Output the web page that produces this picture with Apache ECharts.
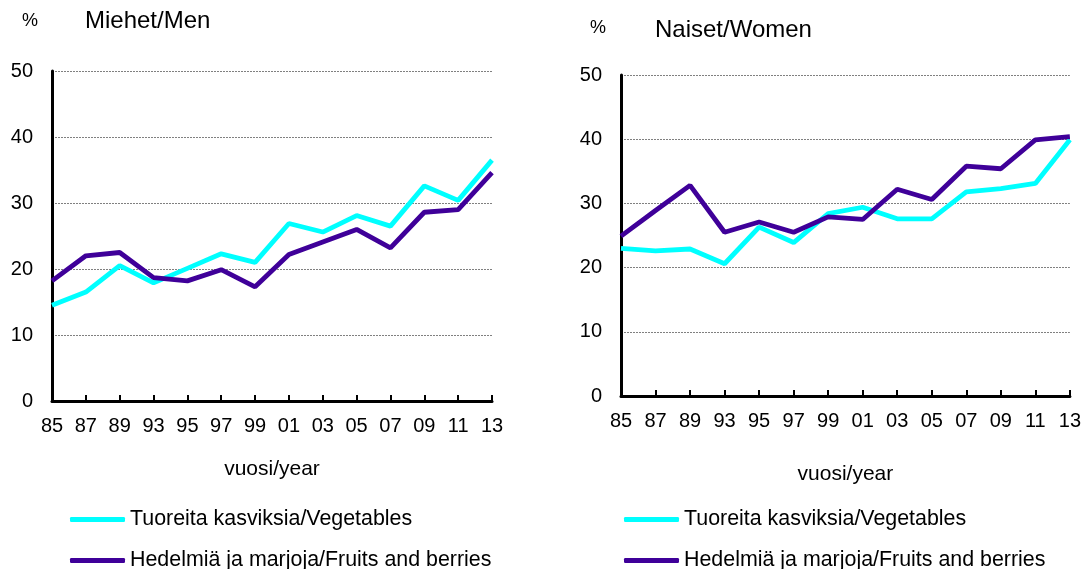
<!DOCTYPE html>
<html>
<head>
<meta charset="utf-8">
<script src="https://cdn.jsdelivr.net/npm/echarts@6/dist/echarts.min.js"></script>
<style>
  html, body { margin: 0; padding: 0; background: #fff; }
  #main { width: 1084px; height: 569px; }
</style>
</head>
<body>
<div id="main"></div>
<script>
// vuodet / years
const years = ['85', '87', '89', '93', '95', '97', '99', '01', '03', '05', '07', '09', '11', '13'];

// Miehet/Men
const menVegetables = [14.5, 16.5, 20.5, 17.9, 20.1, 22.3, 21.0, 26.9, 25.6, 28.1, 26.5, 32.6, 30.4, 36.5];
const menFruits = [18.2, 22.0, 22.5, 18.7, 18.2, 19.9, 17.3, 22.2, 24.1, 26.0, 23.2, 28.6, 29.0, 34.6];

// Naiset/Women
const womenVegetables = [23.0, 22.6, 22.9, 20.6, 26.3, 23.9, 28.4, 29.4, 27.6, 27.6, 31.8, 32.3, 33.1, 39.9];
const womenFruits = [24.9, 28.9, 32.8, 25.5, 27.1, 25.5, 27.9, 27.5, 32.2, 30.6, 35.8, 35.4, 39.9, 40.4];

const nameVeg = 'Tuoreita kasviksia/Vegetables';
const nameFruit = 'Hedelmiä ja marjoja/Fruits and berries';
const colVeg = '#00FFFF';
const colFruit = '#3F0099';
const font = 'Arial, "Liberation Sans", sans-serif';

const myChart = echarts.init(document.getElementById('main'));

function xAxis(gridIndex, nameGap) {
  return {
    type: 'category',
    gridIndex: gridIndex,
    data: years,
    boundaryGap: false,
    name: 'vuosi/year',
    nameLocation: 'middle',
    nameGap: nameGap,
    nameTextStyle: { color: '#000', fontSize: 21, fontFamily: font },
    axisLine: { lineStyle: { color: '#000', width: 3 } },
    axisTick: { inside: true, length: 6, lineStyle: { color: '#000', width: 2 } },
    axisLabel: { color: '#000', fontSize: 20, fontFamily: font, margin: 15, interval: 0 }
  };
}

function yAxis(gridIndex) {
  return {
    type: 'value',
    gridIndex: gridIndex,
    min: 0,
    max: 50,
    interval: 10,
    axisLine: { show: true, lineStyle: { color: '#000', width: 3 } },
    axisTick: { show: false },
    axisLabel: { color: '#000', fontSize: 20, fontFamily: font, margin: 19 },
    splitLine: { lineStyle: { color: '#808080', width: 1, type: [2, 1] } }
  };
}

function line(name, data, color, idx) {
  return {
    name: name,
    type: 'line',
    xAxisIndex: idx,
    yAxisIndex: idx,
    data: data,
    symbol: 'none',
    lineStyle: { color: color, width: 4.8 },
    itemStyle: { color: color }
  };
}

function legend(left, top, name) {
  return {
    left: left,
    top: top,
    icon: 'roundRect',
    itemWidth: 55,
    itemHeight: 5,
    textStyle: { color: '#000', fontSize: 21.4, fontFamily: font },
    data: [name]
  };
}

function title(text, left, top, size) {
  return {
    text: text,
    left: left,
    top: top,
    padding: 0,
    textStyle: { fontSize: size, fontWeight: 'normal', color: '#000', fontFamily: font }
  };
}

myChart.setOption({
  animation: false,
  textStyle: { fontFamily: font },
  title: [
    title('%', 22, 12, 18),
    title('Miehet/Men', 85, 9, 24),
    title('%', 590, 19, 18),
    title('Naiset/Women', 655, 18, 24)
  ],
  legend: [
    legend(65, 504, nameVeg),
    legend(65, 545, nameFruit),
    legend(619, 504, nameVeg),
    legend(619, 545, nameFruit)
  ],
  grid: [
    { left: 52, top: 71, width: 440, height: 330 },
    { left: 621, top: 75, width: 450, height: 321 }
  ],
  xAxis: [xAxis(0, 58), xAxis(1, 68)],
  yAxis: [yAxis(0), yAxis(1)],
  series: [
    line(nameVeg, menVegetables, colVeg, 0),
    line(nameFruit, menFruits, colFruit, 0),
    line(nameVeg, womenVegetables, colVeg, 1),
    line(nameFruit, womenFruits, colFruit, 1)
  ]
});
</script>
</body>
</html>
